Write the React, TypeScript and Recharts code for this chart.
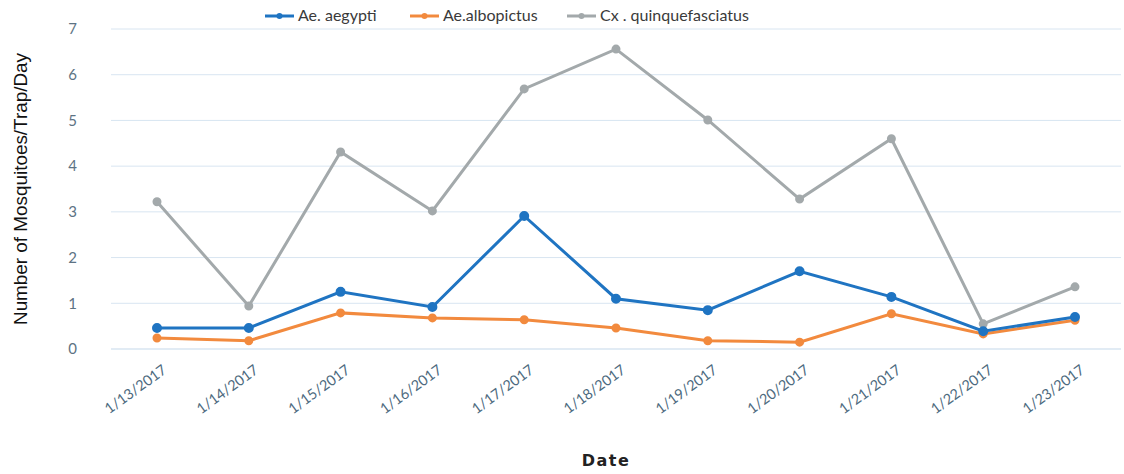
import { LineChart, Line, XAxis, YAxis, CartesianGrid } from 'recharts';

const dates = [
  '1/13/2017', '1/14/2017', '1/15/2017', '1/16/2017', '1/17/2017', '1/18/2017',
  '1/19/2017', '1/20/2017', '1/21/2017', '1/22/2017', '1/23/2017',
];
const aegypti = [0.46, 0.46, 1.25, 0.92, 2.91, 1.1, 0.85, 1.7, 1.14, 0.39, 0.7];
const albopictus = [0.24, 0.18, 0.79, 0.68, 0.64, 0.46, 0.18, 0.15, 0.77, 0.33, 0.63];
const quinque = [3.22, 0.94, 4.31, 3.02, 5.69, 6.56, 5.01, 3.28, 4.6, 0.55, 1.36];
const yTicks = [0, 1, 2, 3, 4, 5, 6, 7];
const boundaryTicks = [0, 1, 2, 3, 4, 5, 6, 7, 8, 9, 10, 11];

const data = dates.map((d, i) => ({
  date: d,
  aegypti: aegypti[i],
  albopictus: albopictus[i],
  quinque: quinque[i],
  idx: i + 0.5,
}));

const COLORS = {
  aegypti: '#1f74c2',
  albopictus: '#f28a3e',
  quinque: '#a3a9ab',
};

const FONT = 'Lato, "Open Sans", sans-serif';

const legendItems = [
  { label: 'Ae. aegypti', color: COLORS.aegypti, x: 265 },
  { label: 'Ae.albopictus', color: COLORS.albopictus, x: 410 },
  { label: 'Cx . quinquefasciatus', color: COLORS.quinque, x: 567 },
];

function DateTick(props: any) {
  const { x, y, payload } = props;
  return (
    <text
      x={x + 4}
      y={y + 6}
      transform={`rotate(-36, ${x + 4}, ${y + 6})`}
      textAnchor="end"
      dominantBaseline="hanging"
      fill="#4d6a7e"
      fontSize={14.5}
      fontFamily={FONT}
    >
      {payload.value}
    </text>
  );
}

function YTitle(props: any) {
  const vb = props.viewBox || {};
  const cy = (vb.y ?? 29) + (vb.height ?? 320) / 2;
  return (
    <text
      x={20}
      y={cy}
      transform={`rotate(-90, 20, ${cy})`}
      textAnchor="middle"
      dominantBaseline="central"
      fill="#111"
      fontSize={19}
      textLength={272}
      lengthAdjust="spacingAndGlyphs"
      fontFamily='"Liberation Sans", sans-serif'
    >
      Number of Mosquitoes/Trap/Day
    </text>
  );
}

export default function App() {
  return (
    <div style={{ position: 'absolute', left: 0, top: 0, width: 1124, height: 474, background: '#fff' }}>
      <svg width={1124} height={30} style={{ position: 'absolute', left: 0, top: 0 }}>
        {legendItems.map((it) => (
          <g key={it.label}>
            <line x1={it.x} x2={it.x + 29} y1={16} y2={16} stroke={it.color} strokeWidth={3} />
            <circle cx={it.x + 14.5} cy={16} r={3} fill={it.color} />
            <text x={it.x + 33} y={21} fontSize={16} fill="#3a3a3a" fontFamily={FONT}>
              {it.label}
            </text>
          </g>
        ))}
      </svg>
      <LineChart
        width={1124}
        height={474}
        data={data}
        margin={{ top: 29, right: 3, bottom: 0, left: 0 }}
      >
        <CartesianGrid horizontal vertical={false} stroke="#d8e5f1" />
        <XAxis
          dataKey="date"
          tick={<DateTick />}
          tickLine={false}
          axisLine={{ stroke: '#d8e5f1' }}
          interval={0}
          height={125}
          padding={{ left: 46, right: 46 }}
          label={{
            value: 'Date',
            position: 'insideBottom',
            offset: 8,
            dx: -10,
            style: { fontSize: 16, fontWeight: 'bold', fill: '#222', letterSpacing: 1.5, fontFamily: 'Verdana, "DejaVu Sans", sans-serif' },
          }}
        />
        <XAxis
          xAxisId="b"
          type="number"
          dataKey="idx"
          domain={[0, 11]}
          ticks={boundaryTicks}
          tick={false}
          tickSize={5}
          tickLine={{ stroke: '#d0dfec' }}
          axisLine={false}
          height={0}
        />
        <YAxis
          domain={[0, 7]}
          ticks={yTicks}
          width={111}
          tickLine={false}
          axisLine={false}
          tickMargin={28}
          tick={{ fill: '#5d7384', fontSize: 15, fontFamily: FONT }}
          label={<YTitle />}
        />
        <Line
          dataKey="quinque"
          stroke={COLORS.quinque}
          strokeWidth={3}
          dot={{ r: 3, fill: COLORS.quinque, stroke: COLORS.quinque }}
          isAnimationActive={false}
        />
        <Line
          dataKey="albopictus"
          stroke={COLORS.albopictus}
          strokeWidth={3}
          dot={{ r: 3, fill: COLORS.albopictus, stroke: COLORS.albopictus }}
          isAnimationActive={false}
        />
        <Line
          dataKey="aegypti"
          stroke={COLORS.aegypti}
          strokeWidth={3}
          dot={{ r: 3.5, fill: COLORS.aegypti, stroke: COLORS.aegypti }}
          isAnimationActive={false}
        />
      </LineChart>
    </div>
  );
}
